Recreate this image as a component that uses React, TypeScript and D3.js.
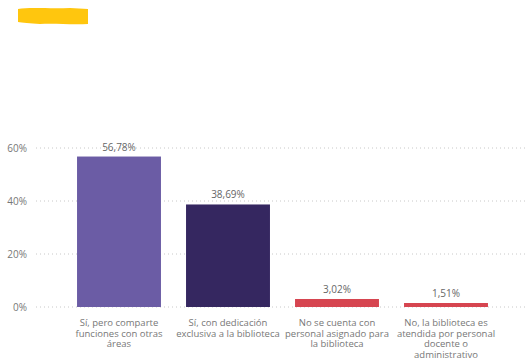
import React from "react";
import * as d3 from "d3";

const categories = [
  "Sí, pero comparte funciones con otras áreas",
  "Sí, con dedicación exclusiva a la biblioteca",
  "No se cuenta con personal asignado para la biblioteca",
  "No, la biblioteca es atendida por personal docente o administrativo",
];
const categoryLines = [
  ["Sí, pero comparte", "funciones con otras", "áreas"],
  ["Sí, con dedicación", "exclusiva a la biblioteca"],
  ["No se cuenta con", "personal asignado para", "la biblioteca"],
  ["No, la biblioteca es", "atendida por personal", "docente o", "administrativo"],
];
const values = [56.78, 38.69, 3.02, 1.51];
const valueLabels = ["56,78%", "38,69%", "3,02%", "1,51%"];
const barColors = ["#6B5CA5", "#352760", "#D64550", "#D64550"];
const yTicks = [0, 20, 40, 60];

const W = 531;
const H = 363;

export default function App() {
  const x = d3
    .scaleBand<string>()
    .domain(categories)
    .range([64.5, 500.5])
    .paddingInner(0.23)
    .paddingOuter(0.115);
  const y = d3.scaleLinear().domain([0, 60]).range([307, 148]);
  const font = "'Open Sans', 'Noto Sans', sans-serif";

  return (
    <svg
      width={W}
      height={H}
      style={{ position: "absolute", left: 0, top: 0, background: "#fff" }}
      fontFamily={font}
    >
      <path
        d="M18,9 C30,7 50,9 70,8 L88,9 L88,24 C70,25 55,23 40,24 C30,23 22,23 18,22 Z"
        fill="#FFC60E"
      />
      {yTicks.map((t) => (
        <g key={t}>
          <line
            x1={36}
            x2={525}
            y1={y(t)}
            y2={y(t)}
            stroke="#C8C8C8"
            strokeWidth={1}
            strokeDasharray="1,3"
          />
          <text
            x={27}
            y={y(t)}
            dy="0.35em"
            textAnchor="end"
            fontSize={10}
            fill="#777"
          >
            {t}%
          </text>
        </g>
      ))}
      {categories.map((c, i) => (
        <g key={c}>
          <rect
            x={x(c)}
            y={y(values[i])}
            width={x.bandwidth()}
            height={y(0) - y(values[i])}
            fill={barColors[i]}
          />
          <text
            x={(x(c) as number) + x.bandwidth() / 2}
            y={y(values[i]) - 6}
            textAnchor="middle"
            fontSize={10}
            fill="#666"
          >
            {valueLabels[i]}
          </text>
          {categoryLines[i].map((l, j) => (
            <text
              key={j}
              x={(x(c) as number) + x.bandwidth() / 2}
              y={326 + j * 10.5}
              textAnchor="middle"
              fontSize={9.5}
              fill="#777"
            >
              {l}
            </text>
          ))}
        </g>
      ))}
    </svg>
  );
}
